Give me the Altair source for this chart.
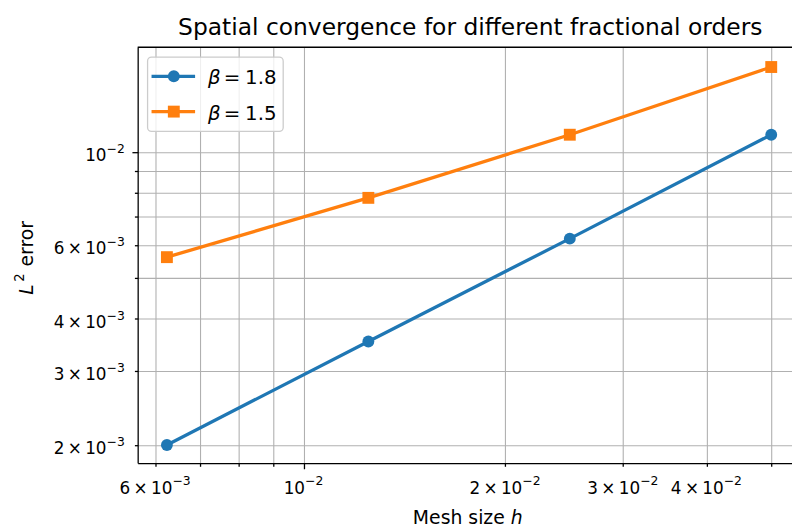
import altair as alt
import pandas as pd

# ---------------- data ----------------
h_values = [1/160, 1/80, 1/40, 1/20]
err_beta_18 = [0.00200, 0.00353, 0.00621, 0.01099]
err_beta_15 = [0.00561, 0.00777, 0.01099, 0.01594]
beta_labels = ["1.8", "1.5"]
series_names = ["β = 1.8", "β = 1.5"]
series_colors = ["#1f77b4", "#ff7f0e"]
series_shapes = ["circle", "square"]

# tick positions (major + minor, all get grid lines)
x_tick_values = [0.006, 0.007, 0.008, 0.009, 0.01, 0.02, 0.03, 0.04, 0.05]
y_tick_values = [0.002, 0.003, 0.004, 0.005, 0.006, 0.007, 0.008, 0.009, 0.01]
# labelled ticks: mantissa part and exponent part
x_label_values = [0.006, 0.01, 0.02, 0.03, 0.04]
x_label_base = ["6\u2009×\u200910", "10", "2\u2009×\u200910", "3\u2009×\u200910", "4\u2009×\u200910"]
x_label_exp = ["−3", "−2", "−2", "−2", "−2"]
y_label_values = [0.002, 0.003, 0.004, 0.006, 0.01]
y_label_base = ["2\u2009×\u200910", "3\u2009×\u200910", "4\u2009×\u200910", "6\u2009×\u200910", "10"]
y_label_exp = ["−3", "−3", "−3", "−3", "−2"]

title_text = "Spatial convergence for different fractional orders"

# axis limits (log space)
x_domain = [10 ** -2.2478, 10 ** -1.2700]
y_domain = [10 ** -2.7421, 10 ** -1.7504]

W, H = 661, 420
FONT = "DejaVu Sans"
TICK_FS = 17
SUP_FS = 12.5
LEG_FS = 20

rows = []
for name, errs in zip(series_names, [err_beta_18, err_beta_15]):
    for hv, ev in zip(h_values, errs):
        rows.append({"h": hv, "err": ev, "series": name})
df = pd.DataFrame(rows)
one = pd.DataFrame({"a": [0]})

ADV = {"×": 0.838, "−": 0.838, "\u2009": 0.2, " ": 0.318}


def text_width(s, fs):
    return sum(ADV.get(c, 0.636) for c in s) * fs


major_test = "round(datum.value*10000)==100"
tick_size = {"condition": {"test": major_test, "value": 5.8}, "value": 3.3}

common_axis = dict(
    grid=True, gridColor="#b0b0b0", gridWidth=1.1,
    tickColor="black", tickWidth=1.3,
    domainColor="black", domainWidth=1.3,
    labels=False, title=None,
)

x_enc = alt.X("h:Q",
              scale=alt.Scale(type="log", domain=x_domain, nice=False, zero=False),
              axis=alt.Axis(values=x_tick_values, tickSize=tick_size, **common_axis))
y_enc = alt.Y("err:Q",
              scale=alt.Scale(type="log", domain=y_domain, nice=False, zero=False),
              axis=alt.Axis(values=y_tick_values, tickSize=tick_size, **common_axis))
color_enc = alt.Color("series:N",
                      scale=alt.Scale(domain=series_names, range=series_colors),
                      legend=None)

base = alt.Chart(df).encode(x=x_enc, y=y_enc, color=color_enc)

layers = []
for name, shp in zip(series_names, series_shapes):
    sub = base.transform_filter(alt.datum.series == name)
    layers.append(sub.mark_line(strokeWidth=3.3))
    layers.append(sub.mark_point(filled=True, opacity=1, size=144, shape=shp))

# ---- tick labels (mantissa + raised exponent), positioned through the scales ----
x_base_y = H + 31
for v, b, e in zip(x_label_values, x_label_base, x_label_exp):
    wb = text_width(b, TICK_FS)
    we = text_width(e, SUP_FS)
    shift = (wb - we) / 2
    d = pd.DataFrame({"h": [v], "base": [b], "exp": [e]})
    layers.append(alt.Chart(d).mark_text(
        font=FONT, fontSize=TICK_FS, align="right", baseline="alphabetic",
        color="black", dx=shift
    ).encode(x=x_enc, y=alt.value(x_base_y), text="base:N"))
    layers.append(alt.Chart(d).mark_text(
        font=FONT, fontSize=SUP_FS, align="left", baseline="alphabetic",
        color="black", dx=shift, dy=-8.5
    ).encode(x=x_enc, y=alt.value(x_base_y), text="exp:N"))

ylab = pd.DataFrame({"err": y_label_values, "base": y_label_base, "exp": y_label_exp})
y_exp_w = text_width("−3", SUP_FS)
layers.append(alt.Chart(ylab).mark_text(
    font=FONT, fontSize=TICK_FS, align="right", baseline="alphabetic",
    color="black", dy=9.3
).encode(x=alt.value(-13 - y_exp_w), y=y_enc, text="base:N"))
layers.append(alt.Chart(ylab).mark_text(
    font=FONT, fontSize=SUP_FS, align="right", baseline="alphabetic",
    color="black", dy=0.8
).encode(x=alt.value(-13), y=y_enc, text="exp:N"))

# top spine
layers.append(alt.Chart(one).mark_rule(color="black", strokeWidth=1.3).encode(
    x=alt.value(0), x2=alt.value(W), y=alt.value(0)))

# legend frame
layers.append(alt.Chart(one).mark_rect(
    fill="white", fillOpacity=0.8, stroke="#cccccc", strokeWidth=1.3, cornerRadius=4
).encode(x=alt.value(10), x2=alt.value(147), y=alt.value(10), y2=alt.value(85)))

for i, (bl, col, shp) in enumerate(zip(beta_labels, series_colors, series_shapes)):
    ly = 29.3 + i * 35.7
    layers.append(alt.Chart(one).mark_rule(color=col, strokeWidth=3.3).encode(
        x=alt.value(14), x2=alt.value(58), y=alt.value(ly)))
    layers.append(alt.Chart(one).mark_point(
        filled=True, opacity=1, size=144, shape=shp, color=col
    ).encode(x=alt.value(36.5), y=alt.value(ly)))
    layers.append(alt.Chart(one).mark_text(
        text="β", font=FONT, fontSize=LEG_FS, fontStyle="italic", align="left",
        baseline="middle", color="black"
    ).encode(x=alt.value(71), y=alt.value(ly + 2)))
    layers.append(alt.Chart(one).mark_text(
        text="=", font=FONT, fontSize=LEG_FS, align="left", baseline="middle", color="black"
    ).encode(x=alt.value(87), y=alt.value(ly + 2)))
    layers.append(alt.Chart(one).mark_text(
        text=bl, font=FONT, fontSize=LEG_FS, align="left", baseline="middle", color="black"
    ).encode(x=alt.value(108.5), y=alt.value(ly + 2)))

# title
layers.append(alt.Chart(one).mark_text(
    text=title_text, font=FONT, fontSize=23.6, align="center",
    baseline="alphabetic", color="black"
).encode(x=alt.value(336), y=alt.value(-12)))

# x axis title: "Mesh size h" (h italic)
layers.append(alt.Chart(one).mark_text(
    text="Mesh size ", font=FONT, fontSize=19, align="left",
    baseline="alphabetic", color="black"
).encode(x=alt.value(278), y=alt.value(482)))
layers.append(alt.Chart(one).mark_text(
    text="h", font=FONT, fontSize=19, fontStyle="italic", align="left",
    baseline="alphabetic", color="black"
).encode(x=alt.value(377), y=alt.value(482)))

# y axis title: "L² error" (L italic), rotated
layers.append(alt.Chart(one).mark_text(
    text="L", font=FONT, fontSize=19, fontStyle="italic", align="left",
    baseline="alphabetic", angle=270, color="black"
).encode(x=alt.value(-106), y=alt.value(250)))
layers.append(alt.Chart(one).mark_text(
    text="2", font=FONT, fontSize=13.3, align="left",
    baseline="alphabetic", angle=270, color="black"
).encode(x=alt.value(-115), y=alt.value(237)))
layers.append(alt.Chart(one).mark_text(
    text="error", font=FONT, fontSize=19, align="left",
    baseline="alphabetic", angle=270, color="black"
).encode(x=alt.value(-106), y=alt.value(221.5)))

chart = alt.layer(*layers).properties(
    width=W, height=H,
    autosize=alt.AutoSizeParams(type="none"),
    padding={"left": 131, "top": 37, "right": 0, "bottom": 66},
).configure_view(strokeWidth=0)

chart.save("out.html", embed_options={"renderer": "svg", "actions": False})
